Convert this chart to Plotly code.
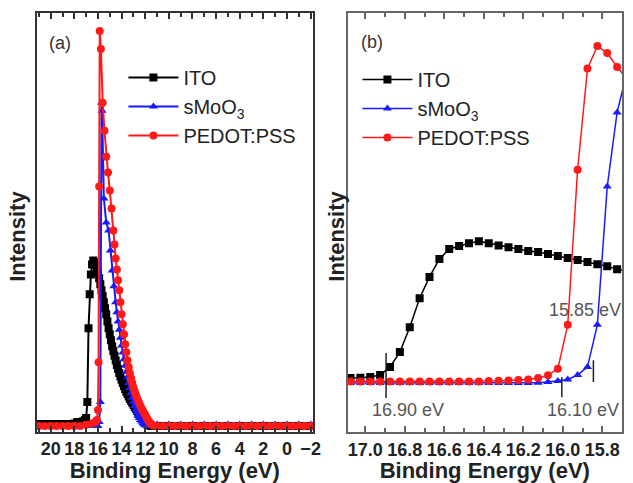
import plotly.graph_objects as go

# ---------------- Panel (a) data ----------------
ito_a_e = [21.5, 21.0, 20.5, 20.0, 19.5, 19.0, 18.5, 18.0, 17.75, 17.5, 17.25, 17.1, 17.0, 16.9, 16.8,
           16.7, 16.6, 16.5, 16.4, 16.3, 16.2, 16.1, 16.0, 15.9, 15.8, 15.7, 15.6, 15.5, 15.4, 15.3,
           15.2, 15.1, 15.0, 14.9, 14.8, 14.7, 14.6, 14.5, 14.4, 14.3, 14.2, 14.1, 14.0, 13.9, 13.8,
           13.7, 13.6, 13.5, 13.4, 13.3, 13.2, 13.1, 13.0, 12.9, 12.8, 12.7, 12.6, 12.5, 12.4, 12.3,
           12.2, 12.1, 12.0, 11.9, 11.8, 11.7, 11.5, 11.0, 10.5, 10.0, 9.5, 9.0, 8.5, 8.0, 7.5, 7.0,
           6.5, 6.0, 5.5, 5.0, 4.5, 4.0, 3.5, 3.0, 2.5, 2.0, 1.5, 1.0, 0.5, 0.0, -0.5, -1.0, -1.5,
           -2.0, -2.5]
ito_a_i = [0.005, 0.005, 0.005, 0.005, 0.005, 0.005, 0.005, 0.006, 0.01, 0.01, 0.012, 0.015, 0.02, 0.06, 0.245,
           0.33, 0.38, 0.405, 0.415, 0.41, 0.405, 0.395, 0.385, 0.37, 0.355, 0.34, 0.325, 0.31, 0.295, 0.28,
           0.262, 0.245, 0.23, 0.215, 0.2, 0.188, 0.176, 0.164, 0.153, 0.143, 0.133, 0.124, 0.116, 0.108, 0.1,
           0.093, 0.086, 0.08, 0.074, 0.068, 0.063, 0.058, 0.053, 0.048, 0.043, 0.038, 0.033, 0.029, 0.025, 0.021,
           0.017, 0.013, 0.01, 0.007, 0.004, 0.002, 0.0, 0.0, 0.0, 0.0, 0.0, 0.0, 0.0, 0.0, 0.0, 0.0,
           0.0, 0.0, 0.0, 0.0, 0.0, 0.0, 0.0, 0.0, 0.0, 0.0, 0.0, 0.0, 0.0, 0.0, 0.0, 0.0, 0.0,
           0.0, 0.0]

moo3_a_e = [21.5, 21.0, 20.5, 20.0, 19.5, 19.0, 18.5, 18.0, 17.5, 17.0, 16.5, 16.0, 15.9, 15.8, 15.7,
            15.65, 15.5, 15.3, 15.1, 14.95, 14.8, 14.65, 14.5, 14.4, 14.3, 14.2, 14.1, 14.0, 13.9, 13.8,
            13.7, 13.6, 13.5, 13.4, 13.3, 13.2, 13.1, 13.0, 12.9, 12.8, 12.7, 12.6, 12.5, 12.4, 12.3,
            12.2, 12.1, 12.0, 11.8, 11.0, 10.0, 9.0, 8.0, 7.0, 6.0, 5.0, 4.0, 3.0, 2.0, 1.0, 0.0, -1.0,
            -2.0, -3.0]
moo3_a_i = [0.0, 0.0, 0.0, 0.0, 0.0, 0.0, 0.0, 0.0, 0.0, 0.0, 0.0, 0.0, 0.01, 0.06, 0.81,
            0.79, 0.57, 0.51, 0.49, 0.44, 0.39, 0.35, 0.31, 0.285, 0.262, 0.241, 0.221, 0.202, 0.184, 0.167,
            0.151, 0.136, 0.122, 0.108, 0.095, 0.083, 0.071, 0.06, 0.05, 0.041, 0.033, 0.026, 0.02, 0.015, 0.011,
            0.007, 0.004, 0.002, 0.0, 0.004, 0.004, 0.004, 0.004, 0.004, 0.004, 0.004, 0.004, 0.004, 0.004, 0.004, 0.004, 0.004,
            0.004, 0.004]

pedot_a_e = [21.5, 21.0, 20.5, 20.0, 19.5, 19.0, 18.5, 18.0, 17.5, 17.0, 16.5, 16.25, 16.1, 16.0, 15.95,
             15.9, 15.85, 15.75, 15.6, 15.45, 15.3, 15.15, 15.0, 14.85, 14.7, 14.6, 14.5, 14.4, 14.3, 14.2,
             14.1, 14.0, 13.9, 13.8, 13.7, 13.6, 13.5, 13.4, 13.3, 13.2, 13.1, 13.0, 12.9, 12.8, 12.7,
             12.6, 12.5, 12.4, 12.3, 12.2, 12.1, 12.0, 11.9, 11.8, 11.7, 11.6, 11.5, 11.4, 11.3, 11.0,
             10.5, 10.0, 9.5, 9.0, 8.5, 8.0, 7.5, 7.0, 6.5, 6.0, 5.5, 5.0, 4.5, 4.0, 3.5, 3.0, 2.5,
             2.0, 1.5, 1.0, 0.5, 0.0, -0.5, -1.0, -1.5, -2.0, -2.5]
pedot_a_i = [0.0, 0.0, 0.0, 0.0, 0.0, 0.0, 0.0, 0.0, 0.0, 0.003, 0.006, 0.01, 0.015, 0.04, 0.16,
             0.6, 0.99, 0.945, 0.81, 0.74, 0.675, 0.635, 0.59, 0.545, 0.49, 0.455, 0.42, 0.392, 0.365, 0.34,
             0.31, 0.28, 0.255, 0.23, 0.205, 0.185, 0.165, 0.148, 0.133, 0.12, 0.108, 0.097, 0.088, 0.079, 0.071,
             0.064, 0.057, 0.05, 0.044, 0.038, 0.033, 0.028, 0.022, 0.017, 0.012, 0.008, 0.005, 0.003, 0.001, 0.0,
             0.0, 0.0, 0.0, 0.0, 0.0, 0.0, 0.0, 0.0, 0.0, 0.0, 0.0, 0.0, 0.0, 0.0, 0.0, 0.0, 0.0,
             0.0, 0.0, 0.0, 0.0, 0.0, 0.0, 0.0, 0.0, 0.0, 0.0]

# ---------------- Panel (b) data ----------------
energy_b = [17.125, 17.075, 17.025, 16.975, 16.925, 16.875, 16.825, 16.775, 16.725, 16.675,
            16.625, 16.575, 16.525, 16.475, 16.425, 16.375, 16.325, 16.275, 16.225, 16.175,
            16.125, 16.075, 16.025, 15.975, 15.925, 15.875, 15.825, 15.775, 15.725, 15.675]
ito_b = [0.012, 0.012, 0.013, 0.015, 0.021, 0.045, 0.089, 0.163, 0.249, 0.312,
         0.365, 0.395, 0.404, 0.412, 0.418, 0.412, 0.405, 0.400, 0.395, 0.389,
         0.386, 0.380, 0.374, 0.368, 0.362, 0.356, 0.350, 0.344, 0.335, 0.330]
moo3_b = [-0.003, -0.003, -0.003, -0.003, -0.003, -0.003, -0.003, -0.003, -0.003, -0.003,
          -0.003, -0.003, -0.003, -0.003, -0.003, -0.003, -0.003, -0.003, -0.003, -0.003,
          -0.002, 0.0, 0.003, 0.008, 0.021, 0.045, 0.17, 0.58, 0.80, 0.92]
pedot_b = [0.002, 0.002, 0.002, 0.002, 0.002, 0.002, 0.002, 0.002, 0.002, 0.002,
           0.002, 0.002, 0.002, 0.002, 0.002, 0.003, 0.004, 0.005, 0.006, 0.008,
           0.012, 0.02, 0.04, 0.17, 0.63, 0.93, 0.997, 0.976, 0.935, 0.90]

series_names = ["ITO", "sMoO<sub>3</sub>", "PEDOT:PSS"]
series_colors = ["#000000", "#1a1aff", "#ff1a1a"]
series_symbols = ["square", "triangle-up", "circle"]

onset_line_e = [16.895, 16.005, 15.845]
onset_line_lo = [-0.047, -0.045, 0.0]
onset_line_hi = [0.086, 0.015, 0.065]
onset_labels = ["16.90 eV", "16.10 eV", "15.85 eV"]
onset_label_e = [16.785, 15.90, 15.89]
onset_label_i = [-0.083, -0.083, 0.214]

FONT = "Liberation Sans, Arial, sans-serif"

fig = go.Figure()
data_a = [(ito_a_e, ito_a_i), (moo3_a_e, moo3_a_i), (pedot_a_e, pedot_a_i)]
data_b = [(energy_b, ito_b), (energy_b, moo3_b), (energy_b, pedot_b)]
for k in range(3):
    fig.add_trace(go.Scatter(
        x=data_a[k][0], y=data_a[k][1], mode="lines+markers", name=series_names[k],
        line=dict(color=series_colors[k], width=2),
        marker=dict(symbol=series_symbols[k], size=8, color=series_colors[k]),
        xaxis="x", yaxis="y", legend="legend"))
for k in range(3):
    fig.add_trace(go.Scatter(
        x=data_b[k][0], y=data_b[k][1], mode="lines+markers", name=series_names[k],
        line=dict(color=series_colors[k], width=1.5),
        marker=dict(symbol=series_symbols[k], size=8, color=series_colors[k]),
        xaxis="x2", yaxis="y2", legend="legend2"))

for k in range(3):
    fig.add_shape(type="line", xref="x2", yref="y2",
                  x0=onset_line_e[k], x1=onset_line_e[k], y0=onset_line_lo[k], y1=onset_line_hi[k],
                  line=dict(color="#222222", width=1.5))
    fig.add_annotation(xref="x2", yref="y2", x=onset_label_e[k], y=onset_label_i[k],
                       text=onset_labels[k], showarrow=False,
                       font=dict(family=FONT, size=18, color="#555555"))

fig.add_annotation(xref="paper", yref="paper", x=48 / 633, y=1 - 43 / 483, xanchor="left",
                   yanchor="middle", text="(a)", showarrow=False,
                   font=dict(family=FONT, size=18, color="#333333"))
fig.add_annotation(xref="paper", yref="paper", x=364 / 633, y=1 - 42 / 483, xanchor="left",
                   yanchor="middle", text="(b)", showarrow=False,
                   font=dict(family=FONT, size=18, color="#333333"))

ydom = [1 - 432 / 483, 1 - 13 / 483]
tickfont = dict(family=FONT, size=18, color="#222222", weight="bold")
titlefont = dict(family=FONT, size=22, color="#222222", weight="bold")

# y-axis titles ("Intensity") placed beside each panel
for xpix in [17, 340]:
    fig.add_annotation(xref="paper", yref="paper", x=xpix / 633, y=1 - 236 / 483,
                       xanchor="center", yanchor="middle", textangle=-90, text="Intensity",
                       showarrow=False, font=titlefont)

common_x = dict(showgrid=False, zeroline=False, showline=True, mirror="ticks",
                ticks="inside", ticklen=6, tickwidth=1.5, tickfont=tickfont, tickangle=0)

fig.update_layout(
    width=633, height=483,
    margin=dict(l=0, r=0, t=0, b=0),
    paper_bgcolor="white", plot_bgcolor="white",
    showlegend=True,
    xaxis=dict(domain=[37 / 633, 317 / 633], anchor="y", range=[21.2, -2.2], dtick=2, tick0=0,
               linecolor="#333333", linewidth=1.5, tickcolor="#333333",
               minor=dict(dtick=1, ticks="inside", ticklen=4, tickcolor="#333333"),
               title=dict(text="Binding Energy (eV)", font=titlefont, standoff=6), **common_x),
    yaxis=dict(domain=ydom, anchor="x", range=[-0.015, 1.035], showticklabels=False,
               showgrid=False, zeroline=False, showline=True, mirror=True, ticks="",
               linecolor="#333333", linewidth=1.5),
    xaxis2=dict(domain=[352 / 633, 630 / 633], anchor="y2", range=[17.09, 15.70], dtick=0.2, tick0=15.8,
                tickformat=".1f", linecolor="#666666", linewidth=2, tickcolor="#666666",
                minor=dict(dtick=0.1, ticks="inside", ticklen=4, tickcolor="#666666"),
                title=dict(text="Binding Energy (eV)", font=titlefont, standoff=6), **common_x),
    yaxis2=dict(domain=ydom, anchor="x2", range=[-0.148, 1.095], showticklabels=False,
                showgrid=False, zeroline=False, showline=True, mirror=True, ticks="",
                linecolor="#666666", linewidth=2),
    legend=dict(x=125 / 633, y=1 - 58 / 483, xanchor="left", yanchor="top", itemwidth=50,
                bgcolor="rgba(0,0,0,0)", font=dict(family=FONT, size=20, color="#222222"),
                tracegroupgap=0),
    legend2=dict(x=362 / 633, y=1 - 60 / 483, xanchor="left", yanchor="top", itemwidth=50,
                 bgcolor="rgba(0,0,0,0)", font=dict(family=FONT, size=20, color="#222222"),
                 tracegroupgap=0),
)

fig.write_html("out.html")
